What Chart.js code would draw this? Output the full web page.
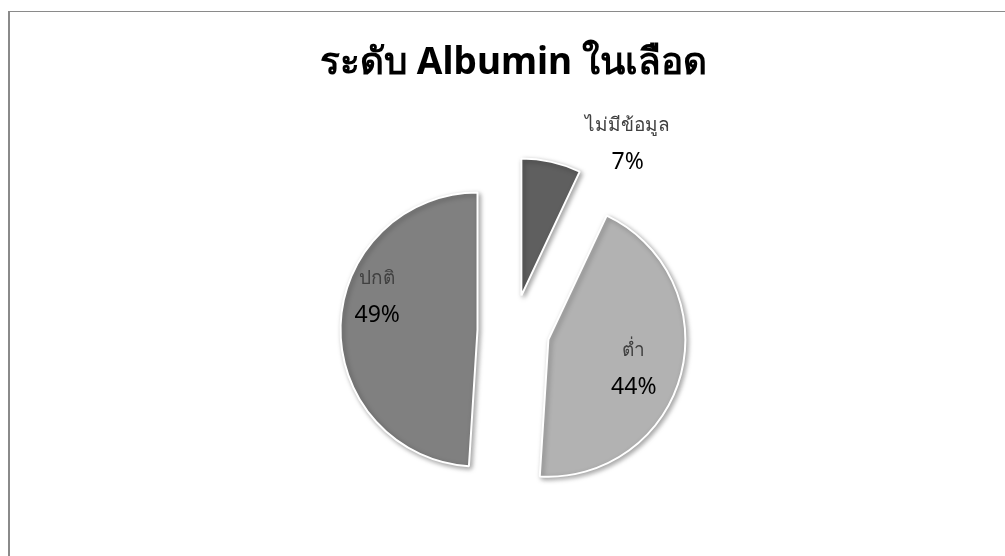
<!DOCTYPE html>
<html>
<head>
<meta charset="utf-8">
<script src="https://cdn.jsdelivr.net/npm/chart.js@4.4.1/dist/chart.umd.min.js"></script>
<style>
  html, body { margin: 0; padding: 0; background: #fff; overflow: hidden; }
  #frame {
    position: absolute; left: 8px; top: 11px; width: 1200px; height: 700px;
    border-left: 2px solid #8a8a8a; border-top: 1px solid #8a8a8a;
  }
  #wrap { position: absolute; left: 0; top: 0; }
</style>
</head>
<body>
<div id="frame"></div>
<div id="wrap"><canvas id="albuminChart" width="1005" height="576"></canvas></div>
<script>
// Data for albumin level chart
const categories = ["ไม่มีข้อมูล", "ต่ำ", "ปกติ"];
const percentValues = [7, 44, 49];
const sliceColors = ["#5f5f5f", "#b2b2b2", "#808080"];

// how far every slice is pulled out, in px (office style explode)
const explode = 36;
// where each label sits: [radius factor from slice apex, angle shift in degrees]
const labelPlacement = [[1.35, 22.5], [0.66, 4.7], [0.77, 16.3]];

// draw the arcs pulled out along their mid angle, with a soft shadow
const explodePlugin = {
  id: "explodeSlices",
  beforeDatasetsDraw(chart) {
    const ctx = chart.ctx;
    const meta = chart.getDatasetMeta(0);
    meta.data.forEach(arc => {
      const mid = (arc.startAngle + arc.endAngle) / 2;
      ctx.save();
      ctx.shadowColor = "rgba(0, 0, 0, 0.35)";
      ctx.shadowBlur = 5;
      ctx.shadowOffsetX = 2;
      ctx.shadowOffsetY = 2;
      ctx.translate(Math.cos(mid) * explode, Math.sin(mid) * explode);
      arc.draw(ctx);
      ctx.restore();
    });
    return false;
  }
};

// category name + percent labels
const sliceLabels = {
  id: "sliceLabels",
  afterDraw(chart) {
    const ctx = chart.ctx;
    const meta = chart.getDatasetMeta(0);
    const total = percentValues.reduce((a, b) => a + b, 0);
    meta.data.forEach((arc, i) => {
      const mid = (arc.startAngle + arc.endAngle) / 2;
      const ax = arc.x + Math.cos(mid) * explode;
      const ay = arc.y + Math.sin(mid) * explode;
      const [f, shift] = labelPlacement[i];
      const a = mid + shift * Math.PI / 180;
      const lx = ax + Math.cos(a) * arc.outerRadius * f;
      const ly = ay + Math.sin(a) * arc.outerRadius * f;
      ctx.save();
      ctx.textAlign = "center";
      ctx.textBaseline = "middle";
      ctx.fillStyle = "#404040";
      ctx.font = "19px 'Noto Sans', 'DejaVu Sans', sans-serif";
      ctx.fillText(categories[i], lx, ly - 18.5);
      ctx.fillStyle = "#000";
      ctx.font = "23px 'Noto Sans', 'DejaVu Sans', sans-serif";
      ctx.fillText(Math.round(percentValues[i] / total * 100) + "%", lx, ly + 18.5);
      ctx.restore();
    });
  }
};

const ctx = document.getElementById("albuminChart").getContext("2d");
new Chart(ctx, {
  type: "pie",
  data: {
    labels: categories,
    datasets: [{
      data: percentValues,
      backgroundColor: sliceColors,
      borderColor: "#ffffff",
      borderWidth: 2
    }]
  },
  options: {
    responsive: false,
    animation: false,
    radius: 137,
    layout: { padding: { left: 22, right: 0, top: 0, bottom: 0 } },
    plugins: {
      legend: { display: false },
      tooltip: { enabled: false },
      title: {
        display: true,
        text: "ระดับ Albumin ในเลือด",
        color: "#000",
        font: { family: "'Noto Sans', 'DejaVu Sans', sans-serif", size: 37, weight: "bold", lineHeight: 1.2 },
        padding: { top: 41, bottom: 0 }
      }
    }
  },
  plugins: [explodePlugin, sliceLabels]
});
</script>
</body>
</html>
